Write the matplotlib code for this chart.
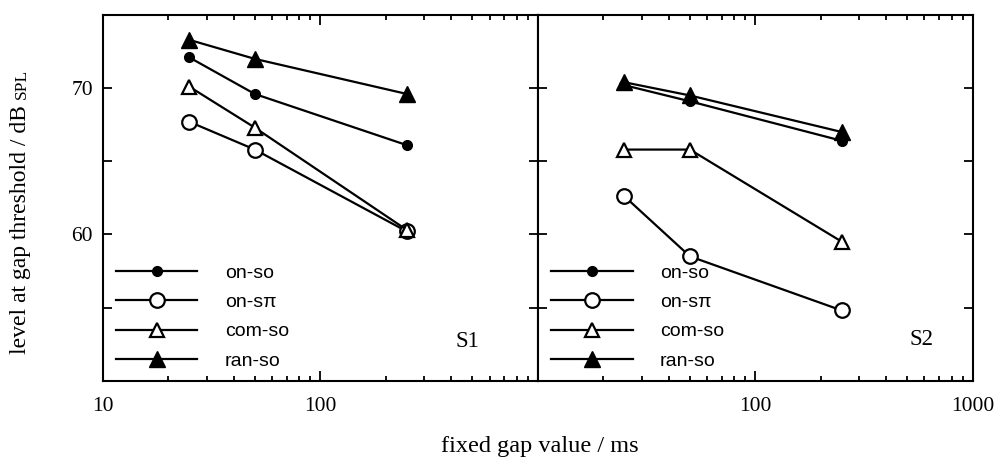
import matplotlib
matplotlib.use("Agg")

import matplotlib.pyplot as plt
from matplotlib.ticker import LogLocator, FixedLocator, FixedFormatter, NullFormatter

# fixed gap values (ms) and thresholds (dB SPL)
gap_ms = [25, 50, 250]

s1_on_so = [72.1, 69.6, 66.1]
s1_on_spi = [67.7, 65.8, 60.2]
s1_com_so = [70.1, 67.3, 60.3]
s1_ran_so = [73.3, 72.0, 69.6]

s2_on_so = [70.2, 69.1, 66.4]
s2_on_spi = [62.6, 58.5, 54.8]
s2_com_so = [65.8, 65.8, 59.5]
s2_ran_so = [70.4, 69.5, 67.0]

series_labels = ['on-so', 'on-s\u03c0', 'com-so', 'ran-so']
panel_names = ['S1', 'S2']
name_pos = [(0.837, 0.108), (0.883, 0.112)]

SERIF = 'Liberation Serif'
SANS = ['Liberation Sans', 'DejaVu Sans']

W, H = 1004, 469
fig = plt.figure(figsize=(W / 100, H / 100), dpi=100)


def px(x0, y0, x1, y1):
    # axes rectangle from pixel box (top-left origin)
    return [x0 / W, 1 - y1 / H, (x1 - x0) / W, (y1 - y0) / H]


ax1 = fig.add_axes(px(102.7, 15, 538, 380.7))
ax2 = fig.add_axes(px(538, 15, 972.7, 380.7))

styles = [
    dict(marker='o', markersize=7, markerfacecolor='black'),
    dict(marker='o', markersize=10.5, markerfacecolor='white', markeredgewidth=1.6),
    dict(marker='^', markersize=10, markerfacecolor='white', markeredgewidth=1.6),
    dict(marker='^', markersize=11, markerfacecolor='black'),
]

panels = [
    (ax1, [s1_on_so, s1_on_spi, s1_com_so, s1_ran_so]),
    (ax2, [s2_on_so, s2_on_spi, s2_com_so, s2_ran_so]),
]

for i, (ax, data) in enumerate(panels):
    for vals, lab, st in zip(data, series_labels, styles):
        ax.plot(gap_ms, vals, color='black', lw=1.6, markeredgecolor='black',
                label=lab, clip_on=False, **st)

    ax.set_xscale('log')
    ax.set_xlim(10, 1000)
    ax.set_ylim(50, 75)

    ax.xaxis.set_major_locator(FixedLocator([10, 100, 1000]))
    ax.xaxis.set_minor_locator(LogLocator(base=10, subs=range(2, 10)))
    ax.xaxis.set_minor_formatter(NullFormatter())
    if i == 0:
        ax.xaxis.set_major_formatter(FixedFormatter(['10', '100', '']))
    else:
        ax.xaxis.set_major_formatter(FixedFormatter(['', '100', '1000']))

    ax.yaxis.set_major_locator(FixedLocator([55, 60, 65, 70]))
    ax.yaxis.set_major_formatter(FixedFormatter(['', '60', '', '70']))

    ax.tick_params(which='both', direction='in', top=True, right=True,
                   width=1.3, colors='black')
    ax.tick_params(axis='x', which='major', length=7.5, pad=12)
    ax.tick_params(axis='x', which='minor', length=3.5)
    ax.tick_params(axis='y', which='major', length=6.5, pad=7)
    if i == 1:
        ax.tick_params(axis='y', labelleft=False)

    for lab in ax.get_xticklabels() + ax.get_yticklabels():
        lab.set_fontfamily(SERIF)
        lab.set_fontsize(15.5)

    for sp in ax.spines.values():
        sp.set_linewidth(1.5)

    leg = ax.legend(loc='lower left', bbox_to_anchor=(0.03, 0.03),
                    frameon=False, borderpad=0, borderaxespad=0,
                    handlelength=4.2, handletextpad=1.4, labelspacing=0.6,
                    prop={'family': SANS, 'size': 14})

    ax.text(name_pos[i][0], name_pos[i][1], panel_names[i], transform=ax.transAxes,
            family=SERIF, fontsize=16.5, ha='center', va='center')

fig.text(540 / W, 1 - 446 / H, 'fixed gap value / ms', family=SERIF,
         fontsize=17.5, ha='center', va='center')

# y label with smaller "SPL"
yl = fig.text(26 / W, 1 - 354 / H, 'level at gap threshold / dB ', family=SERIF,
              fontsize=17, rotation=90, rotation_mode='anchor',
              ha='left', va='baseline')
fig.canvas.draw()
bb = yl.get_window_extent(renderer=fig.canvas.get_renderer())
fig.text(26 / W, bb.y1 / H, 'SPL', family=SERIF, fontsize=12.5, rotation=90,
         rotation_mode='anchor', ha='left', va='baseline')

fig.savefig('out.png', dpi=100)
